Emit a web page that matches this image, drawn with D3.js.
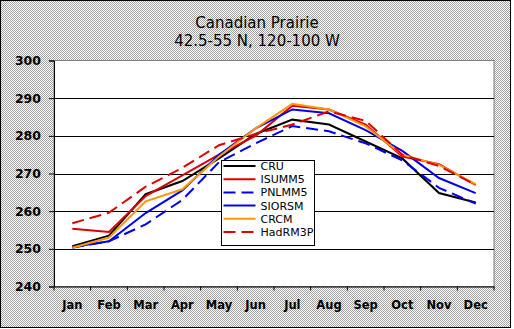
<!DOCTYPE html>
<html><head><meta charset="utf-8">
<script src="https://cdn.jsdelivr.net/npm/d3@7/dist/d3.min.js"></script>
<style>html,body{margin:0;padding:0;background:#fff}svg{display:block}</style>
</head><body>
<script>
const months = ["Jan","Feb","Mar","Apr","May","Jun","Jul","Aug","Sep","Oct","Nov","Dec"];
const yTicks = [240,250,260,270,280,290,300];
const CRU     = [250.7,253.5,264.5,268.0,274.0,280.5,284.3,283.0,278.5,274.0,264.8,262.3];
const ISUMM5  = [255.3,254.5,264.0,269.5,275.0,280.0,288.0,287.0,283.0,274.5,272.5,267.0];
const PNLMM5  = [250.3,252.0,256.5,263.0,273.0,278.0,282.6,281.2,278.0,273.5,266.2,262.0];
const SIORSM  = [250.5,252.0,259.5,265.5,275.0,282.0,287.0,286.0,281.5,276.0,268.8,264.8];
const CRCM    = [250.3,253.0,262.6,265.8,274.5,282.0,288.5,287.0,282.5,275.0,272.3,267.2];
const HadRM3P = [256.8,259.6,266.5,271.5,277.5,280.5,283.0,286.5,284.0,275.0,272.0,267.0];

const series = [
  {name:"CRU", values:CRU, color:"#000000", dash:null},
  {name:"ISUMM5", values:ISUMM5, color:"#dd0000", dash:null},
  {name:"PNLMM5", values:PNLMM5, color:"#0000ee", dash:"12,6"},
  {name:"SIORSM", values:SIORSM, color:"#0000ee", dash:null},
  {name:"CRCM", values:CRCM, color:"#ff9900", dash:null},
  {name:"HadRM3P", values:HadRM3P, color:"#dd0000", dash:"12,6"}
];

const W=514,H=329;
const FONT="DejaVu Sans, Verdana, sans-serif";
const svg=d3.select("body").append("svg").attr("width",W).attr("height",H);
const defs=svg.append("defs");
const pat=defs.append("pattern").attr("id","dither").attr("width",2).attr("height",2).attr("patternUnits","userSpaceOnUse");
pat.append("rect").attr("width",2).attr("height",2).attr("fill","#ffffff");
pat.append("rect").attr("x",0).attr("y",0).attr("width",1).attr("height",1).attr("fill","#a0a0a0");
pat.append("rect").attr("x",1).attr("y",1).attr("width",1).attr("height",1).attr("fill","#a0a0a0");

svg.append("rect").attr("x",0.5).attr("y",0.5).attr("width",510).attr("height",327)
  .attr("fill","url(#dither)").attr("stroke","#000").attr("stroke-width",1);

const L=54,R=494,T=60.5,B=286.5;
const x=d3.scaleBand().domain(months).range([L,R]);
const y=d3.scaleLinear().domain([240,300]).range([B,T]);

svg.append("rect").attr("x",L).attr("y",T).attr("width",R-L).attr("height",B-T)
  .attr("fill","#fff").attr("stroke","#808080").attr("stroke-width",1);

// gridlines
svg.append("g").selectAll("line").data(yTicks.filter(d=>d>240&&d<300)).join("line")
  .attr("x1",L).attr("x2",R).attr("y1",d=>Math.round(y(d))+0.5).attr("y2",d=>Math.round(y(d))+0.5)
  .attr("stroke","#000").attr("stroke-width",1);

// y axis
const ya=svg.append("g").attr("transform",`translate(${L},0)`)
  .call(d3.axisLeft(y).tickValues(yTicks).tickSize(5).tickPadding(8).tickFormat(d3.format("d")));
ya.select(".domain").attr("stroke","#000");
ya.selectAll("text").attr("font-family",FONT).attr("font-weight","bold").attr("font-size",12.5).attr("fill","#000");

// x axis
const xa=svg.append("g").attr("transform",`translate(0,${B})`)
  .call(d3.axisBottom(x).tickSize(0).tickPadding(14));
xa.select(".domain").attr("stroke","#000");
xa.selectAll("text").attr("font-family",FONT).attr("font-weight","bold").attr("font-size",11.5).attr("fill","#000");
xa.append("g").selectAll("line").data(d3.range(13)).join("line")
  .attr("x1",i=>L+i*x.step()).attr("x2",i=>L+i*x.step()).attr("y1",0).attr("y2",4).attr("stroke","#000");

// lines
const line=d3.line().x((d,i)=>x(months[i])+x.bandwidth()/2).y(d=>y(d));
svg.append("g").selectAll("path").data(series).join("path")
  .attr("d",s=>line(s.values)).attr("fill","none").attr("stroke",s=>s.color)
  .attr("stroke-width",2).attr("stroke-dasharray",s=>s.dash);

// legend
const lg=svg.append("g").attr("transform","translate(221.5,160.5)");
lg.append("rect").attr("width",93).attr("height",85).attr("fill","#fff").attr("stroke","#000");
const ent=lg.selectAll("g").data(series).join("g").attr("transform",(d,i)=>`translate(0,${5.5+i*13.2})`);
ent.append("line").attr("x1",2).attr("x2",34).attr("y1",0).attr("y2",0).attr("stroke",d=>d.color)
  .attr("stroke-width",2).attr("stroke-dasharray",d=>d.dash);
ent.append("text").attr("x",39).attr("y",4).text(d=>d.name)
  .attr("font-family",FONT).attr("font-size",11).attr("fill","#000");

// title
const tt=svg.append("text").attr("text-anchor","middle").attr("font-family",FONT).attr("font-size",15).attr("fill","#000");
tt.append("tspan").attr("x",257).attr("y",28).text("Canadian Prairie");
tt.append("tspan").attr("x",257).attr("y",45.5).text("42.5-55 N, 120-100 W");
</script>
</body></html>
